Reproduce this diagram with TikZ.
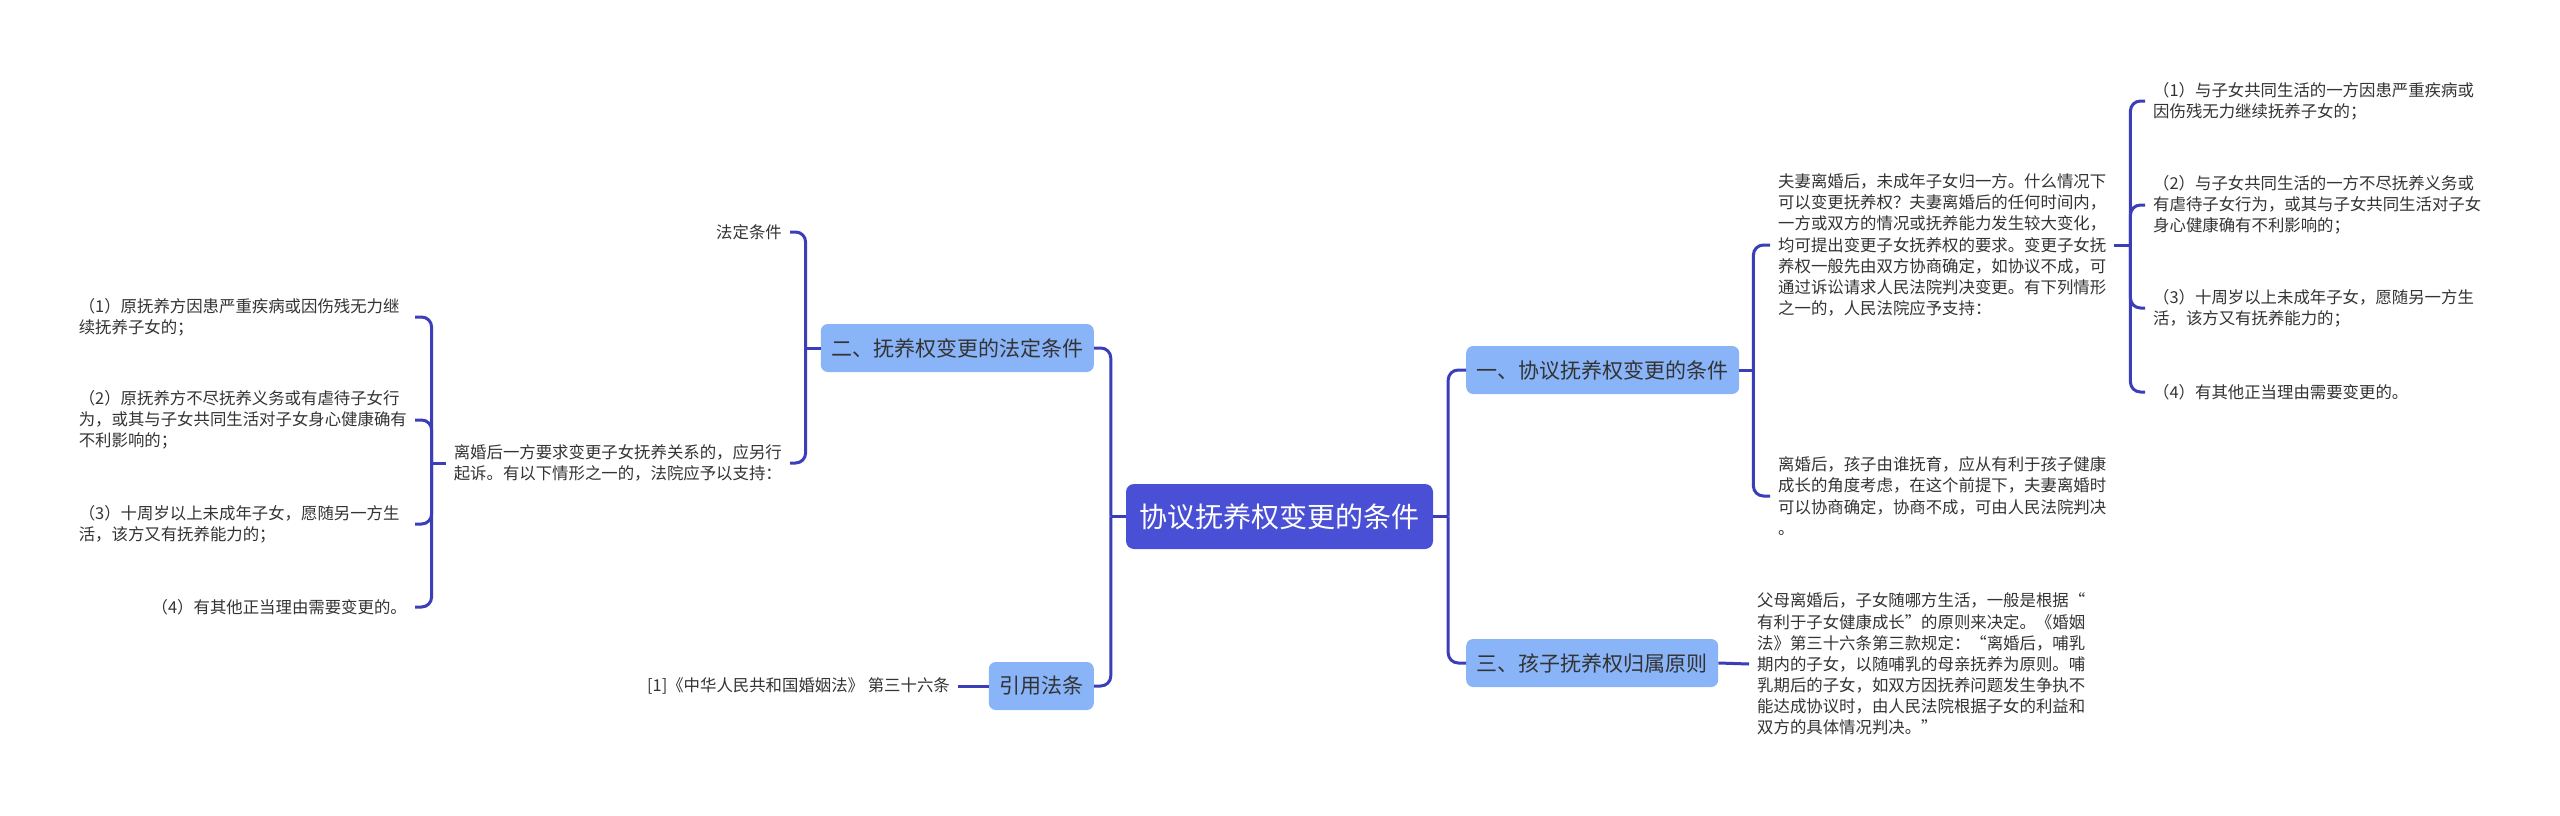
\documentclass[tikz,border=0pt]{standalone}
\usepackage{fontspec}
\setmainfont{Noto Sans CJK SC}
\definecolor{connc}{HTML}{3B3EB8}
\definecolor{rootc}{HTML}{4A50D6}
\definecolor{topc}{HTML}{8AB4F8}
\definecolor{textc}{HTML}{333333}
\begin{document}
\begin{tikzpicture}[x=1pt,y=-1pt,
  conn/.style={draw=connc, line width=3pt, rounded corners=10pt},
  stub/.style={draw=connc, line width=3pt},
  rootbox/.style={fill=rootc, rounded corners=8pt, text=white, font=\fontsize{28}{34}\selectfont, minimum height=65pt, inner xsep=13.5pt, inner ysep=0pt},
  topic/.style={fill=topc, rounded corners=7pt, text=textc, font=\fontsize{21}{26}\selectfont, minimum height=48pt, inner xsep=10.5pt, inner ysep=0pt},
  leaf/.style={text=textc, font=\fontsize{16.4}{21.1}\selectfont, inner xsep=8pt, inner ysep=2pt, align=left},
  wide/.style={leaf, text width=328pt}
]
\useasboundingbox (0,0) rectangle (2560,816);

% root and topics
\node[rootbox] (root) at (1279.5,516.5) {协议抚养权变更的条件};
\node[topic, anchor=west] (n1) at (1466,370) {一、协议抚养权变更的条件};
\node[topic, anchor=west] (n3) at (1466,663) {三、孩子抚养权归属原则};
\node[topic, anchor=east] (n2) at (1094,348) {二、抚养权变更的法定条件};
\node[topic, anchor=east] (n4) at (1094,686) {引用法条};

% right side leaves
\node[leaf, anchor=west] (t1) at (1770,245) {夫妻离婚后，未成年子女归一方。什么情况下\\可以变更抚养权？夫妻离婚后的任何时间内，\\一方或双方的情况或抚养能力发生较大变化，\\均可提出变更子女抚养权的要求。变更子女抚\\养权一般先由双方协商确定，如协议不成，可\\通过诉讼请求人民法院判决变更。有下列情形\\之一的，人民法院应予支持：};
\node[leaf, anchor=west] (t2) at (1770,496) {离婚后，孩子由谁抚育，应从有利于孩子健康\\成长的角度考虑，在这个前提下，夫妻离婚时\\可以协商确定，协商不成，可由人民法院判决\\。};
\node[leaf, anchor=west] (r1) at (2145,101) {（1）与子女共同生活的一方因患严重疾病或\\因伤残无力继续抚养子女的；};
\node[leaf, anchor=west] (r2) at (2145,205) {（2）与子女共同生活的一方不尽抚养义务或\\有虐待子女行为，或其与子女共同生活对子女\\身心健康确有不利影响的；};
\node[leaf, anchor=west] (r3) at (2145,308) {（3）十周岁以上未成年子女，愿随另一方生\\活，该方又有抚养能力的；};
\node[leaf, anchor=west] (r4) at (2145,392) {（4）有其他正当理由需要变更的。};
\node[leaf, anchor=west] (t3) at (1749,664) {父母离婚后，子女随哪方生活，一般是根据“\\有利于子女健康成长”的原则来决定。《婚姻\\法》第三十六条第三款规定：“离婚后，哺乳\\期内的子女，以随哺乳的母亲抚养为原则。哺\\乳期后的子女，如双方因抚养问题发生争执不\\能达成协议时，由人民法院根据子女的利益和\\双方的具体情况判决。”};

% left side leaves
\node[leaf, anchor=east] (l0) at (790,232) {法定条件};
\node[leaf, anchor=east] (l1) at (790,463) {离婚后一方要求变更子女抚养关系的，应另行\\起诉。有以下情形之一的，法院应予以支持：};
\node[wide, anchor=east] (ll1) at (415,317) {（1）原抚养方因患严重疾病或因伤残无力继\\续抚养子女的；};
\node[wide, anchor=east] (ll2) at (415,420) {（2）原抚养方不尽抚养义务或有虐待子女行\\为，或其与子女共同生活对子女身心健康确有\\不利影响的；};
\node[wide, anchor=east] (ll3) at (415,524) {（3）十周岁以上未成年子女，愿随另一方生\\活，该方又有抚养能力的；};
\node[leaf, anchor=east] (ll4) at (415,607) {（4）有其他正当理由需要变更的。};
\node[leaf, anchor=east] (ref) at (958,686) {[1]《中华人民共和国婚姻法》 第三十六条};

% connectors: root
\draw[stub] (root.east) -- ([xshift=15pt]root.east);
\draw[conn] ([xshift=15pt]root.east) |- (n1.west);
\draw[conn] ([xshift=15pt]root.east) |- (n3.west);
\draw[stub] (root.west) -- ([xshift=-15pt]root.west);
\draw[conn] ([xshift=-15pt]root.west) |- (n2.east);
\draw[conn] ([xshift=-15pt]root.west) |- (n4.east);

% topic 1
\draw[stub] (n1.east) -- ([xshift=14pt]n1.east);
\draw[conn] ([xshift=14pt]n1.east) |- (t1.west);
\draw[conn] ([xshift=14pt]n1.east) |- (t2.west);
\draw[stub] (t1.east) -- ([xshift=16pt]t1.east);
\foreach \r in {r1,r2,r3,r4} \draw[conn] ([xshift=16pt]t1.east) |- (\r.west);

% topic 3
\draw[stub] (n3.east) -- (t3.west);

% topic 2
\draw[stub] (n2.west) -- ([xshift=-15pt]n2.west);
\draw[conn] ([xshift=-15pt]n2.west) |- (l0.east);
\draw[conn] ([xshift=-15pt]n2.west) |- (l1.east);
\draw[stub] (l1.west) -- ([xshift=-14pt]l1.west);
\foreach \l in {ll1,ll2,ll3,ll4} \draw[conn] ([xshift=-14pt]l1.west) |- (\l.east);

% topic 4
\draw[stub] (n4.west) -- (ref.east);
\end{tikzpicture}
\end{document}
